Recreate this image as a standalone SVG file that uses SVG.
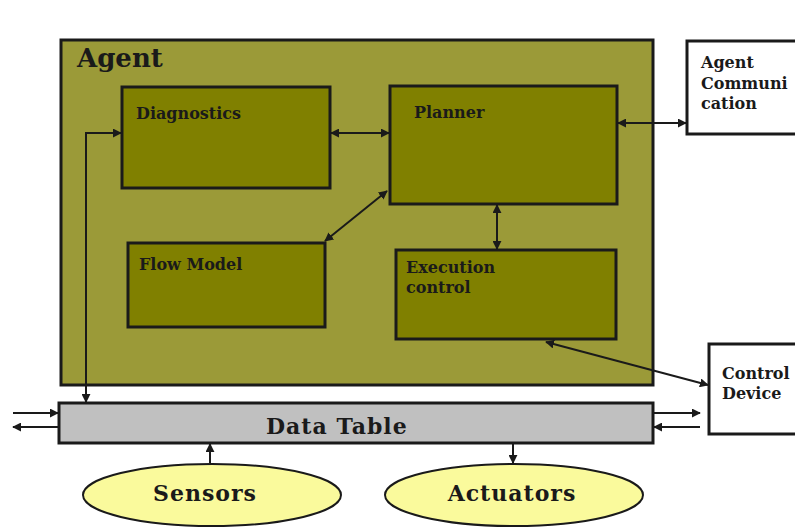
<svg xmlns="http://www.w3.org/2000/svg" width="795" height="527" viewBox="0 0 795 527">
  <style>
    .agent { fill: #9b9a38; stroke: #1a1a1a; stroke-width: 3; }
    .module { fill: #808000; stroke: #1a1a1a; stroke-width: 3; }
    .ext { fill: #ffffff; stroke: #1a1a1a; stroke-width: 3; }
    .table { fill: #c0c0c0; stroke: #1a1a1a; stroke-width: 3; }
    .io { fill: #fafa9c; stroke: #1a1a1a; stroke-width: 2; }
    text { font-family: "DejaVu Serif", "Liberation Serif", serif; font-weight: bold; fill: #1a1a1a; }
    .lbl { font-size: 16px; }
    .big { font-size: 22px; letter-spacing: 1px; }
    .link { fill: none; stroke: #1a1a1a; stroke-width: 2; marker-end: url(#head); }
    .both { marker-start: url(#tail); }
  </style>
  <defs>
    <marker id="head" viewBox="0 0 10 10" refX="9" refY="5" markerWidth="4.5" markerHeight="4.5" orient="auto" markerUnits="strokeWidth">
      <path d="M0,0 L10,5 L0,10 z" fill="#1a1a1a"/>
    </marker>
    <marker id="tail" viewBox="0 0 10 10" refX="1" refY="5" markerWidth="4.5" markerHeight="4.5" orient="auto" markerUnits="strokeWidth">
      <path d="M10,0 L0,5 L10,10 z" fill="#1a1a1a"/>
    </marker>
  </defs>

  <rect width="795" height="527" fill="#ffffff"/>

  <g id="agent">
    <rect class="agent" x="61" y="40" width="592" height="345"/>
    <text x="77" y="67" style="font-size:26px">Agent</text>
  </g>

  <g id="diagnostics">
    <rect class="module" x="122" y="87" width="208" height="101"/>
    <text class="lbl" x="136" y="119">Diagnostics</text>
  </g>

  <g id="planner">
    <rect class="module" x="390" y="86" width="227" height="118"/>
    <text class="lbl" x="414" y="118">Planner</text>
  </g>

  <g id="flow-model">
    <rect class="module" x="128" y="243" width="197" height="84"/>
    <text class="lbl" x="139" y="270">Flow Model</text>
  </g>

  <g id="execution-control">
    <rect class="module" x="396" y="250" width="220" height="89"/>
    <text class="lbl" x="406" y="273">Execution</text>
    <text class="lbl" x="406" y="293">control</text>
  </g>

  <g id="agent-communication">
    <rect class="ext" x="687" y="41" width="120" height="93"/>
    <text class="lbl" x="701" y="68">Agent</text>
    <text class="lbl" x="701" y="89">Communi</text>
    <text class="lbl" x="701" y="109">cation</text>
  </g>

  <g id="control-device">
    <rect class="ext" x="709" y="344" width="100" height="90"/>
    <text class="lbl" x="722" y="379">Control</text>
    <text class="lbl" x="722" y="399">Device</text>
  </g>

  <g id="data-table">
    <rect class="table" x="59" y="403" width="594" height="40"/>
    <text class="big" x="266" y="434">Data Table</text>
  </g>

  <g id="sensors">
    <ellipse class="io" cx="212" cy="495" rx="129" ry="31"/>
    <text class="big" x="205" y="501" text-anchor="middle">Sensors</text>
  </g>

  <g id="actuators">
    <ellipse class="io" cx="514" cy="495" rx="129" ry="31"/>
    <text class="big" x="512" y="501" text-anchor="middle">Actuators</text>
  </g>

  <g id="connectors">
    <!-- inside the agent -->
    <path class="link both" d="M331,133 H389"/>
    <path class="link both" d="M86,402 V133 H121"/>
    <path class="link both" d="M387,191 L325,241"/>
    <path class="link both" d="M497,205 V249"/>
    <path class="link both" d="M618,123 H686"/>
    <path class="link both" d="M546,342 L708,385"/>
    <!-- data table links -->
    <path class="link" d="M13,413 H58"/>
    <path class="link" d="M58,427 H13"/>
    <path class="link" d="M654,413 H700"/>
    <path class="link" d="M700,427 H654"/>
    <path class="link" d="M210,463 V444"/>
    <path class="link" d="M513,444 V463"/>
  </g>
</svg>
